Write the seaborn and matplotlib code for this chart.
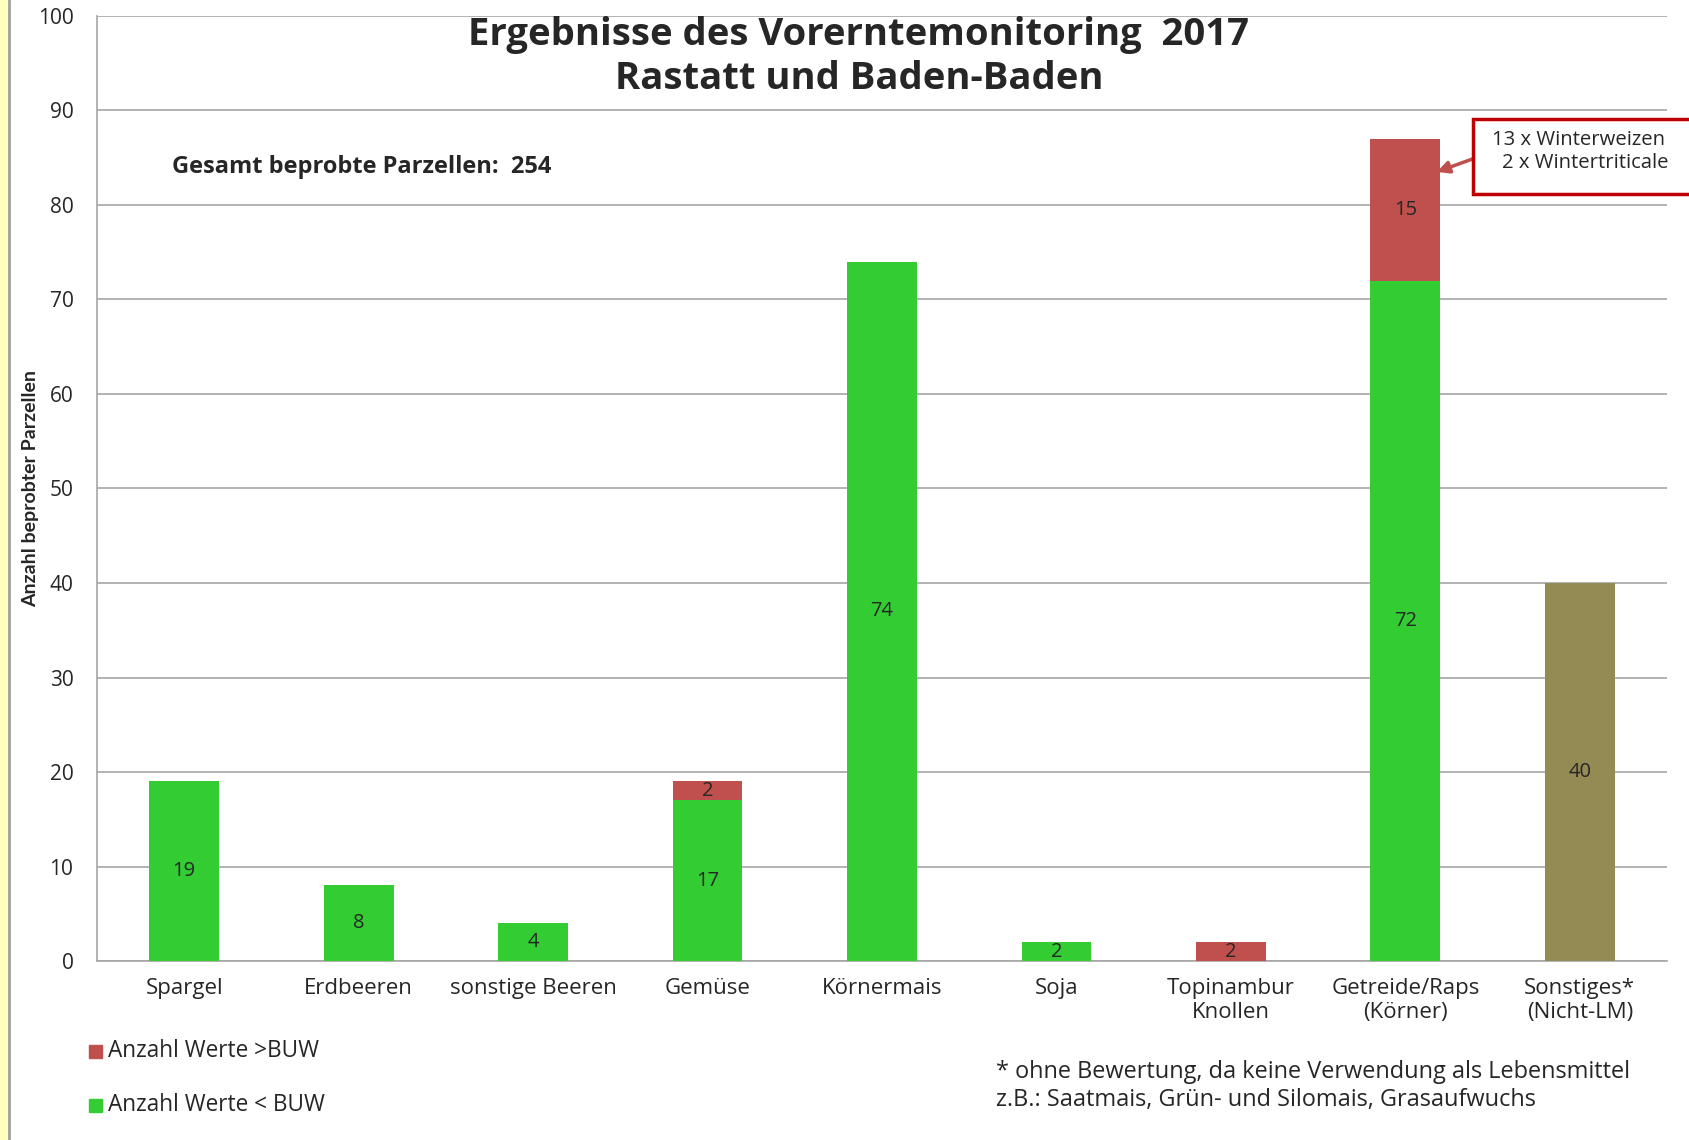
import numpy as np
import pandas as pd
import matplotlib
matplotlib.use('Agg')
import matplotlib.pyplot as plt
import seaborn as sns
from matplotlib.patches import Rectangle

kategorien = ['Spargel', 'Erdbeeren', 'sonstige Beeren', 'Gemüse', 'Körnermais',
              'Soja', 'Topinambur\nKnollen', 'Getreide/Raps\n(Körner)', 'Sonstiges*\n(Nicht-LM)']
unter_buw = [19, 8, 4, 17, 74, 2, 0, 72, 0]
ueber_buw = [0, 0, 0, 2, 0, 0, 2, 15, 0]
sonstige = [0, 0, 0, 0, 0, 0, 0, 0, 40]

GRUEN = '#33CC33'
ROT = '#C0504D'
OLIV = '#948A54'
W, H = 1690, 1140

def fx(x):
    return x / W

def fy(y):
    return 1 - y / H

sns.set_theme(style="white")
plt.rcParams['font.family'] = ['Open Sans', 'DejaVu Sans']

fig = plt.figure(figsize=(16.9, 11.4), dpi=100)
ax = fig.add_axes([0.0574, 0.157, 0.929, 0.829])

df = pd.DataFrame({'kat': kategorien, 'unter': unter_buw, 'ueber': ueber_buw, 'sonst': sonstige})

sns.barplot(data=df, x='kat', y='unter', color=GRUEN, width=0.4, saturation=1, ax=ax,
            zorder=3, linewidth=0)
sns.barplot(data=df, x='kat', y='ueber', bottom=df['unter'], color=ROT, width=0.4,
            saturation=1, ax=ax, zorder=3, linewidth=0)
sns.barplot(data=df, x='kat', y='sonst', color=OLIV, width=0.4, saturation=1, ax=ax,
            zorder=3, linewidth=0)

# Beschriftungen in den Segmenten
for i in range(len(kategorien)):
    if unter_buw[i] > 0:
        ax.text(i, unter_buw[i] / 2, str(unter_buw[i]), ha='center', va='center', fontsize=14.5, zorder=5)
    if ueber_buw[i] > 0:
        ax.text(i, unter_buw[i] + ueber_buw[i] / 2, str(ueber_buw[i]), ha='center', va='center',
                fontsize=14.5, zorder=5)
    if sonstige[i] > 0:
        ax.text(i, sonstige[i] / 2, str(sonstige[i]), ha='center', va='center', fontsize=14.5, zorder=5)

ax.set_xlim(-0.5, len(kategorien) - 0.5)
ax.set_ylim(0, 100)
ax.set_yticks(range(0, 101, 10))
ax.yaxis.grid(True, color='#A6A6A6', linewidth=1.2, zorder=0)
ax.set_axisbelow(True)
for s in ['top', 'right']:
    ax.spines[s].set_visible(False)
for s in ['left', 'bottom']:
    ax.spines[s].set_color('#A6A6A6')
    ax.spines[s].set_linewidth(1.2)

ax.set_xticks(np.arange(len(kategorien)))
ax.set_xticklabels(kategorien, fontsize=16, linespacing=1.2)
ax.set_xticks(np.arange(len(kategorien) + 1) - 0.5, minor=True)
ax.tick_params(axis='x', which='major', length=0, pad=12)
ax.tick_params(axis='x', which='minor', length=7, color='#A6A6A6', width=1.2)
ax.tick_params(axis='y', length=8, color='#A6A6A6', width=1.2, labelsize=15, pad=9)
ax.set_xlabel('')
ax.set_ylabel('Anzahl beprobter Parzellen', fontsize=14, fontweight='bold',
              family=['Liberation Sans Narrow', 'Lato', 'DejaVu Sans'])
ax.yaxis.set_label_coords(-0.037, 0.50)

fig.text(fx(859), fy(35), 'Ergebnisse des Vorerntemonitoring  2017', fontsize=27.5,
         fontweight='bold', ha='center', va='center')
fig.text(fx(859), fy(79), 'Rastatt und Baden-Baden', fontsize=27.5,
         fontweight='bold', ha='center', va='center')

fig.text(fx(172), fy(167), 'Gesamt beprobte Parzellen:  254', fontsize=17,
         fontweight='bold', va='center')

# Kasten mit Pfeil
fig.patches.append(Rectangle((fx(1473), fy(194)), fx(240), 75 / H, transform=fig.transFigure,
                             fc='white', ec='#C00000', lw=2.5, zorder=6))
fig.text(fx(1492), fy(140), '13 x Winterweizen', fontsize=14.6, va='center', zorder=7)
fig.text(fx(1502), fy(163), '2 x Wintertriticale', fontsize=14.6, va='center', zorder=7)
ax.annotate('', xy=(7.18, 83.5), xycoords='data',
            xytext=(fx(1478), fy(157)), textcoords='figure fraction',
            arrowprops=dict(arrowstyle='-|>', color=ROT, lw=2.5, mutation_scale=18,
                            shrinkA=0, shrinkB=0),
            annotation_clip=False, zorder=6)

# Legende unten links
fig.patches.append(Rectangle((fx(89), fy(1058)), 13 / W, 13 / H,
                             transform=fig.transFigure, color=ROT))
fig.patches.append(Rectangle((fx(89), fy(1112)), 13 / W, 13 / H,
                             transform=fig.transFigure, color=GRUEN))
fig.text(fx(108), fy(1051), 'Anzahl Werte >BUW', fontsize=16.3, va='center')
fig.text(fx(108), fy(1105), 'Anzahl Werte < BUW', fontsize=16.3, va='center')

fig.text(fx(996), fy(1086),
         '* ohne Bewertung, da keine Verwendung als Lebensmittel\nz.B.: Saatmais, Grün- und Silomais, Grasaufwuchs',
         fontsize=16.9, va='center', linespacing=1.25)

# gelber Rand links
fig.patches.append(Rectangle((0, 0), fx(8), 1, transform=fig.transFigure, color='#FFFFC0'))
fig.lines.append(plt.Line2D([fx(9), fx(9)], [0, 1], transform=fig.transFigure,
                            color='#A0A0A0', lw=2))

fig.savefig('out.png', dpi=100)
